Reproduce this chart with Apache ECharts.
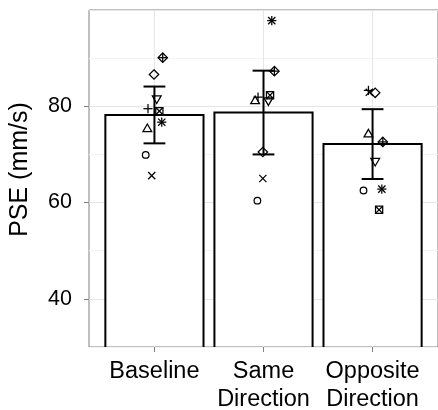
<!DOCTYPE html>
<html>
<head>
<meta charset="utf-8">
<script src="https://cdn.jsdelivr.net/npm/echarts@6/dist/echarts.min.js"></script>
<style>
  html, body { margin: 0; padding: 0; background: #fff; }
  #chart { width: 438px; height: 410px; }
</style>
</head>
<body>
<div id="chart"></div>
<script>
  // categories and summary values
  var categories = ['Baseline', 'Same\nDirection', 'Opposite\nDirection'];
  var catPos = [1, 2, 3];
  var means = [78.2, 78.7, 72.15];
  var errs = [5.9, 8.7, 7.25];
  var yMin = 30, yMax = 100;
  var yTicks = [40, 60, 80];

  // one shape per participant
  var shapes = ['circle', 'triangle', 'plus', 'cross', 'diamond', 'triangleDown', 'squareCross', 'asterisk', 'diamondPlus'];
  var baselineVals = [69.9, 75.4, 79.5, 65.6, 86.6, 81.5, 79.0, 76.7, 90.1];
  var sameVals = [60.4, 81.2, 81.9, 65.0, 70.5, 81.1, 82.3, 97.8, 87.3];
  var oppositeVals = [62.5, 74.3, 83.3, 82.9, 82.8, 68.5, 58.5, 62.8, 72.6];
  // horizontal jitter (category units)
  var baselineJitter = [-0.08, -0.065, -0.059, -0.025, -0.004, 0.021, 0.045, 0.067, 0.076];
  var sameJitter = [-0.056, -0.077, -0.05, -0.006, -0.006, 0.045, 0.06, 0.076, 0.1];
  var oppositeJitter = [-0.083, -0.038, -0.038, -0.03, 0.024, 0.024, 0.06, 0.085, 0.094];

  var allVals = [baselineVals, sameVals, oppositeVals];
  var allJitter = [baselineJitter, sameJitter, oppositeJitter];

  var barData = catPos.map(function (p, i) { return [p, means[i]]; });
  var errData = catPos.map(function (p, i) { return [p, means[i] - errs[i], means[i] + errs[i]]; });
  var pointData = [];
  catPos.forEach(function (p, ci) {
    shapes.forEach(function (s, si) {
      pointData.push([p + allJitter[ci][si], allVals[ci][si], si]);
    });
  });

  var strokeStyle = { stroke: '#000', lineWidth: 1.25, fill: null };

  function renderVGrid(params, api) {
    var a = api.coord([api.value(0), yMin]);
    var b = api.coord([api.value(0), yMax]);
    return { type: 'line', shape: { x1: a[0], y1: a[1], x2: b[0], y2: b[1] }, style: { stroke: '#e6e6e6', lineWidth: 1 } };
  }

  function renderBar(params, api) {
    var x = api.value(0), m = api.value(1), half = 0.45;
    var tl = api.coord([x - half, m]);
    var br = api.coord([x + half, yMin]);
    return {
      type: 'group',
      children: [
        { type: 'rect', shape: { x: tl[0], y: tl[1], width: br[0] - tl[0], height: br[1] - tl[1] - 1 }, style: { fill: '#fff' } },
        { type: 'polyline', shape: { points: [[tl[0], br[1]], [tl[0], tl[1]], [br[0], tl[1]], [br[0], br[1]]] }, style: { stroke: '#000', lineWidth: 2, fill: null } }
      ]
    };
  }

  function renderErr(params, api) {
    var x = api.value(0), lo = api.value(1), hi = api.value(2), cap = 0.1;
    var pLo = api.coord([x, lo]), pHi = api.coord([x, hi]);
    var cl = api.coord([x - cap, lo])[0], cr = api.coord([x + cap, lo])[0];
    var st = { stroke: '#000', lineWidth: 2 };
    return {
      type: 'group',
      children: [
        { type: 'line', shape: { x1: pLo[0], y1: pLo[1], x2: pHi[0], y2: pHi[1] }, style: st },
        { type: 'line', shape: { x1: cl, y1: pLo[1], x2: cr, y2: pLo[1] }, style: st },
        { type: 'line', shape: { x1: cl, y1: pHi[1], x2: cr, y2: pHi[1] }, style: st }
      ]
    };
  }

  function seg(x1, y1, x2, y2) {
    return { type: 'line', shape: { x1: x1, y1: y1, x2: x2, y2: y2 }, style: strokeStyle };
  }

  function renderPoint(params, api) {
    var c = api.coord([api.value(0), api.value(1)]);
    var x = c[0], y = c[1];
    var s = shapes[api.value(2)];
    var r = 3.6;
    var kids = [];
    if (s === 'circle') {
      kids.push({ type: 'circle', shape: { cx: x, cy: y, r: 3.3 }, style: strokeStyle });
    } else if (s === 'triangle') {
      kids.push({ type: 'polygon', shape: { points: [[x, y - 4.4], [x + 4.4, y + 3.2], [x - 4.4, y + 3.2]] }, style: strokeStyle });
    } else if (s === 'triangleDown') {
      kids.push({ type: 'polygon', shape: { points: [[x, y + 4.4], [x + 4.4, y - 3.2], [x - 4.4, y - 3.2]] }, style: strokeStyle });
    } else if (s === 'plus') {
      kids.push(seg(x - 4.6, y, x + 4.6, y), seg(x, y - 4.6, x, y + 4.6));
    } else if (s === 'cross') {
      kids.push(seg(x - r, y - r, x + r, y + r), seg(x - r, y + r, x + r, y - r));
    } else if (s === 'diamond') {
      kids.push({ type: 'polygon', shape: { points: [[x, y - 4.7], [x + 4.7, y], [x, y + 4.7], [x - 4.7, y]] }, style: strokeStyle });
    } else if (s === 'squareCross') {
      kids.push({ type: 'rect', shape: { x: x - 3.6, y: y - 3.6, width: 7.2, height: 7.2 }, style: strokeStyle },
        seg(x - 3.6, y - 3.6, x + 3.6, y + 3.6), seg(x - 3.6, y + 3.6, x + 3.6, y - 3.6));
    } else if (s === 'asterisk') {
      kids.push(seg(x - 4.6, y, x + 4.6, y), seg(x, y - 4.6, x, y + 4.6),
        seg(x - r, y - r, x + r, y + r), seg(x - r, y + r, x + r, y - r));
    } else if (s === 'diamondPlus') {
      kids.push({ type: 'polygon', shape: { points: [[x, y - 4.7], [x + 4.7, y], [x, y + 4.7], [x - 4.7, y]] }, style: strokeStyle },
        seg(x - 4.7, y, x + 4.7, y), seg(x, y - 4.7, x, y + 4.7));
    }
    return { type: 'group', children: kids };
  }

  var myChart = echarts.init(document.getElementById('chart'));
  var textFont = 'Liberation Sans, Arial, Helvetica, sans-serif';
  var chartOption = {
    animation: false,
    backgroundColor: '#fff',
    grid: {
      left: 89, right: 0, top: 10, bottom: 63,
      outerBoundsMode: 'none',
      show: true, borderColor: '#808080', borderWidth: 1, backgroundColor: 'transparent'
    },
    xAxis: {
      type: 'value',
      min: 0.4,
      max: 3.6,
      axisLine: { show: false },
      splitLine: { show: false },
      axisTick: { show: true, customValues: catPos, length: 5, lineStyle: { color: '#808080' } },
      axisLabel: {
        customValues: catPos,
        margin: 11,
        fontSize: 23.5,
        lineHeight: 28,
        color: '#000',
        fontFamily: textFont,
        formatter: function (v) { return categories[catPos.indexOf(v)]; }
      }
    },
    yAxis: [
      {
        type: 'value',
        min: yMin,
        max: yMax,
        interval: 10,
        axisLine: { show: false },
        axisTick: { show: false },
        axisLabel: { show: false },
        splitLine: { show: true, lineStyle: { color: ['#f4f4f4', '#e6e6e6'], width: 1 } },
        name: 'PSE (mm/s)',
        nameLocation: 'middle',
        nameGap: 56,
        nameTextStyle: { fontSize: 25, color: '#000', fontFamily: textFont, padding: [0, 0, 0, 18] }
      },
      {
        type: 'value',
        min: yMin,
        max: yMax,
        position: 'left',
        axisLine: { show: false },
        splitLine: { show: false },
        axisTick: { show: true, customValues: yTicks, length: 5, lineStyle: { color: '#808080' } },
        axisLabel: { customValues: yTicks, margin: 17, fontSize: 21.5, color: '#000', fontFamily: textFont }
      }
    ],
    series: [
      { name: 'vgrid', type: 'custom', z: 1, silent: true, renderItem: renderVGrid, data: catPos.map(function (p) { return [p]; }) },
      { name: 'mean', type: 'custom', z: 2, renderItem: renderBar, data: barData, clip: true },
      { name: 'err', type: 'custom', z: 3, renderItem: renderErr, data: errData },
      { name: 'points', type: 'custom', z: 4, renderItem: renderPoint, data: pointData }
    ]
  };
  myChart.setOption(chartOption);
</script>
</body>
</html>
